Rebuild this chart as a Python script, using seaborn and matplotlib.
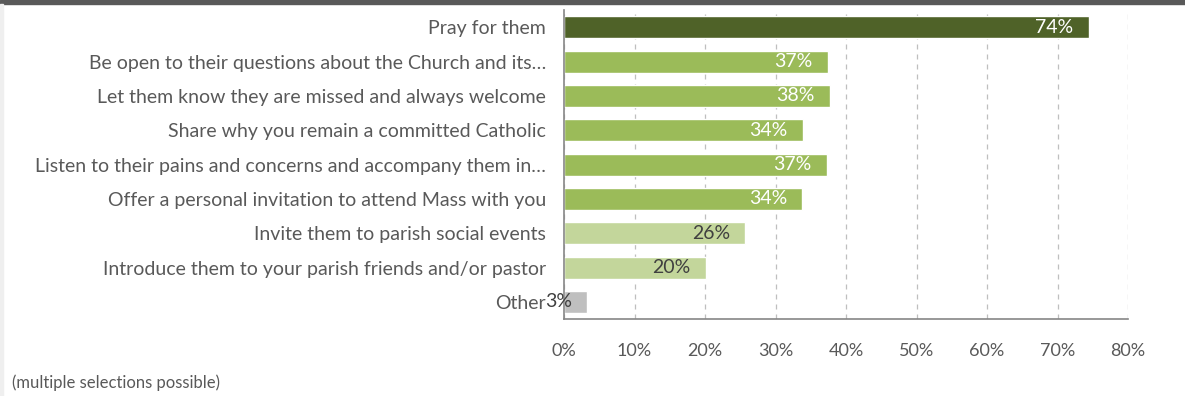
import numpy as np
import pandas as pd
import matplotlib
matplotlib.use('Agg')
import matplotlib.pyplot as plt
import seaborn as sns
from matplotlib.ticker import FixedLocator, PercentFormatter

categories = [
    'Pray for them',
    'Be open to their questions about the Church and its\u2026',
    'Let them know they are missed and always welcome',
    'Share why you remain a committed Catholic',
    'Listen to their pains and concerns and accompany them in\u2026',
    'Offer a personal invitation to attend Mass with you',
    'Invite them to parish social events',
    'Introduce them to your parish friends and/or pastor',
    'Other',
]
values = [74.4, 37.4, 37.7, 33.9, 37.3, 33.8, 25.7, 20.1, 3.3]
bar_colors = ['#4F6228', '#9BBB59', '#9BBB59', '#9BBB59', '#9BBB59', '#9BBB59',
              '#C3D69B', '#C3D69B', '#BFBFBF']
label_colors = ['white'] * 6 + ['#404040'] * 3

df = pd.DataFrame({'category': categories, 'value': values})

sns.set_theme(style='white')
plt.rcParams['font.family'] = ['Lato', 'DejaVu Sans']

fig = plt.figure(figsize=(11.85, 3.96), dpi=100)
ax = fig.add_axes([0.476, 0.1944, 0.476, 0.7803])

sns.barplot(data=df, x='value', y='category', hue='category', palette=bar_colors,
            legend=False, width=0.64, saturation=1, ax=ax)

for i, (v, c) in enumerate(zip(values, label_colors)):
    ax.annotate(f'{v:.0f}%', xy=(v, i), xytext=(-11, 0), textcoords='offset points',
                ha='right', va='center', fontsize=14, color=c)

ax.set_xlim(0, 80)
ax.set_ylim(8.5, -0.5)
ax.set_xticks(np.arange(0, 81, 10))
ax.xaxis.set_major_formatter(PercentFormatter(decimals=0))
ax.set_xlabel('')
ax.set_ylabel('')

# dashed vertical gridlines
ax.xaxis.grid(True, linestyle=(0, (4, 4)), color='#BFBFBF', linewidth=0.9)
ax.set_axisbelow(True)

for s in ['top', 'right']:
    ax.spines[s].set_visible(False)
for s in ['left', 'bottom']:
    ax.spines[s].set_color('#868686')
    ax.spines[s].set_linewidth(1.2)

ax.tick_params(axis='x', which='major', direction='out', length=5, width=1,
               color='#868686', labelsize=13, labelcolor='#595959', pad=12)
ax.tick_params(axis='y', which='major', length=0, labelsize=14,
               labelcolor='#595959', pad=13)
ax.yaxis.set_minor_locator(FixedLocator(np.arange(-0.5, 9, 1)))
ax.tick_params(axis='y', which='minor', direction='out', length=5, width=1,
               color='#868686')

fig.text(0.01, 0.033, '(multiple selections possible)', fontsize=12,
         color='#595959', ha='left', va='center')

# header band and left strip
fig.patches.append(plt.Rectangle((0, 0.99), 1, 0.01, transform=fig.transFigure,
                                 color='#595959', zorder=5))
fig.patches.append(plt.Rectangle((0, 0), 0.0025, 0.99, transform=fig.transFigure,
                                 color='#EFEFEF', zorder=5))

fig.savefig('out.png', dpi=100)
